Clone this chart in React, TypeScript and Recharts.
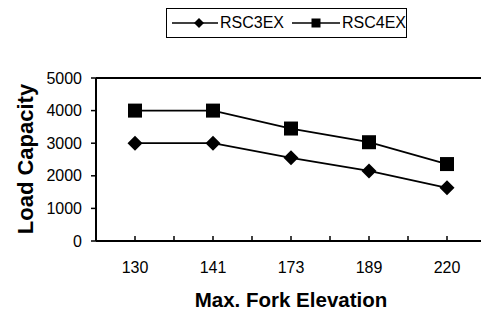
import React from "react";
import {
  LineChart,
  Line,
  XAxis,
  YAxis,
  ReferenceLine,
  Legend,
} from "recharts";

const elevations = ["130", "141", "173", "189", "220"];
const rsc3ex = [3000, 3000, 2550, 2150, 1630];
const rsc4ex = [4000, 4000, 3450, 3030, 2360];
const yTicks = [0, 1000, 2000, 3000, 4000, 5000];
const xTicks = [-0.5, 0, 0.5, 1, 1.5, 2, 2.5, 3, 3.5, 4, 4.5];

const data = elevations.map((e, i) => ({
  idx: i,
  label: e,
  RSC3EX: rsc3ex[i],
  RSC4EX: rsc4ex[i],
}));

const FONT = "'Liberation Sans', Arial, sans-serif";

const Diamond = ({ cx, cy, half = 7.5 }: { cx?: number; cy?: number; half?: number }) => {
  if (cx == null || cy == null) return null;
  const r = half;
  return (
    <polygon
      points={`${cx},${cy - r} ${cx + r},${cy} ${cx},${cy + r} ${cx - r},${cy}`}
      fill="#000"
    />
  );
};

const Square = ({ cx, cy, side = 14 }: { cx?: number; cy?: number; side?: number }) => {
  if (cx == null || cy == null) return null;
  return <rect x={cx - side / 2} y={cy - side / 2} width={side} height={side} fill="#000" />;
};

const XTick = (props: any) => {
  const { x, y, payload } = props;
  const v = payload.value as number;
  const isCat = Number.isInteger(v);
  return (
    <g>
      <line x1={x} y1={y} x2={x} y2={y - 5} stroke="#000" strokeWidth={1.5} />
      {isCat && (
        <text
          x={x}
          y={y + 32}
          textAnchor="middle"
          fontSize={16}
          fontFamily={FONT}
          fill="#000"
        >
          {elevations[v]}
        </text>
      )}
    </g>
  );
};

const LegendBox = () => (
  <div
    style={{
      width: 239,
      height: 28,
      border: "1.5px solid #000",
      display: "flex",
      alignItems: "center",
      fontFamily: FONT,
      fontSize: 16,
      color: "#000",
      boxSizing: "content-box",
    }}
  >
    <svg width={48} height={14} style={{ marginLeft: 5 }}>
      <line x1={0} y1={7} x2={48} y2={7} stroke="#000" strokeWidth={1.5} />
      <Diamond cx={27} cy={7} half={5} />
    </svg>
    <span style={{ marginLeft: 2 }}>RSC3EX</span>
    <svg width={50} height={14} style={{ marginLeft: 8 }}>
      <line x1={0} y1={7} x2={50} y2={7} stroke="#000" strokeWidth={1.5} />
      <Square cx={24} cy={7} side={9} />
    </svg>
    <span style={{ marginLeft: 2 }}>RSC4EX</span>
  </div>
);

export default function App() {
  return (
    <div
      style={{
        position: "fixed",
        left: 0,
        top: 0,
        width: 481,
        height: 312,
        overflow: "hidden",
        background: "#fff",
      }}
    >
      <LineChart
        width={500}
        height={312}
        data={data}
        margin={{ top: 78, right: 14, left: 0, bottom: 0 }}
      >
        <XAxis
          dataKey="idx"
          type="number"
          domain={[-0.5, 4.5]}
          ticks={xTicks}
          interval={0}
          allowDataOverflow
          height={71}
          tickSize={0}
          tickMargin={0}
          tickLine={false}
          axisLine={{ stroke: "#000", strokeWidth: 2 }}
          tick={<XTick />}
        />
        <YAxis
          type="number"
          domain={[0, 5000]}
          ticks={yTicks}
          width={96}
          tickSize={5}
          tickMargin={9}
          axisLine={{ stroke: "#000", strokeWidth: 2 }}
          tickLine={{ stroke: "#000", strokeWidth: 1.5 }}
          tick={{ fill: "#000", fontSize: 16, fontFamily: FONT }}
        />
        <ReferenceLine y={5000} stroke="#000" strokeWidth={2} ifOverflow="extendDomain" />
        <ReferenceLine x={4.5} stroke="#000" strokeWidth={2} />
        <Legend
          layout="vertical"
          verticalAlign="middle"
          align="center"
          content={<LegendBox />}
          wrapperStyle={{ position: "absolute", left: 166, top: 8, width: 242, height: 31 }}
        />
        <Line
          dataKey="RSC3EX"
          stroke="#000"
          strokeWidth={1.8}
          dot={<Diamond />}
          activeDot={false}
          isAnimationActive={false}
        />
        <Line
          dataKey="RSC4EX"
          stroke="#000"
          strokeWidth={1.8}
          dot={<Square />}
          activeDot={false}
          isAnimationActive={false}
        />
        <text
          x={25}
          y={159}
          transform="rotate(-90 25 159)"
          textAnchor="middle"
          dominantBaseline="central"
          fontSize={22}
          fontWeight="bold"
          fontFamily={FONT}
          fill="#000"
        >
          Load Capacity
        </text>
        <text
          x={291}
          y={307}
          textAnchor="middle"
          fontSize={20.5}
          fontWeight="bold"
          fontFamily={FONT}
          fill="#000"
        >
          Max. Fork Elevation
        </text>
      </LineChart>
    </div>
  );
}
